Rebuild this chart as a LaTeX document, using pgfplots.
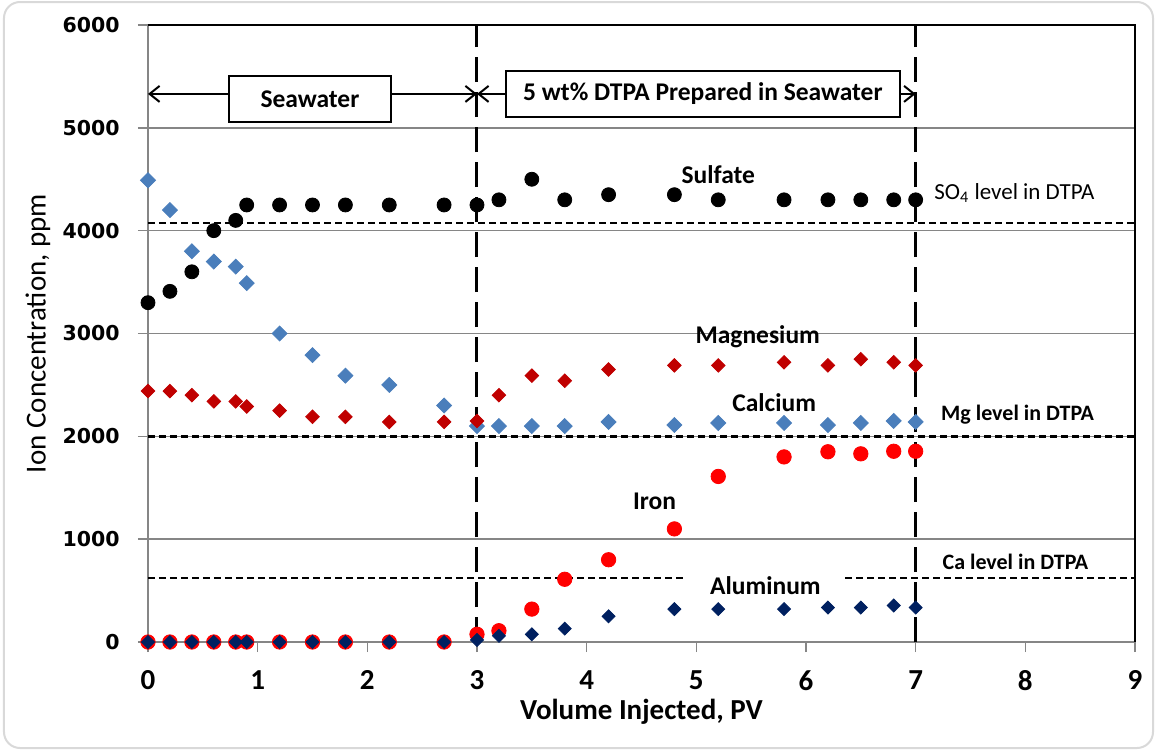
\documentclass[border=0pt]{standalone}
\usepackage{fontspec}
\setmainfont{Carlito}
\newfontfamily\dejavu{DejaVu Sans}
\usepackage{pgfplots}
\pgfplotsset{compat=1.18}
\usetikzlibrary{arrows.meta}
\definecolor{caBlue}{RGB}{74,126,187}
\definecolor{mgRed}{RGB}{192,0,0}
\definecolor{feRed}{RGB}{255,0,0}
\definecolor{alNavy}{RGB}{0,32,96}
\definecolor{gridGray}{RGB}{134,134,134}
\definecolor{frameGray}{RGB}{217,217,217}
\newcommand{\lblfont}{\fontsize{12.75pt}{15pt}\selectfont\bfseries}
\begin{document}
\begin{tikzpicture}
\useasboundingbox (-74pt,-55pt) rectangle (504.5pt,321pt);
\draw[frameGray, line width=1pt, rounded corners=8pt] (-72pt,-53pt) rectangle (502.5pt,320pt);
\begin{axis}[
  scale only axis, width=493.5pt, height=308.5pt,
  at={(0pt,0pt)}, anchor=south west,
  xmin=0, xmax=9, ymin=0, ymax=6000,
  xtick={0,1,2,3,4,5,6,7,8,9}, xticklabels={0,1,2,3,4,5,6,7,8,9},
  ytick={0,1000,2000,3000,4000,5000,6000},
  yticklabels={0,1000,2000,3000,4000,5000,6000},
  tick pos=left, tick align=outside, major tick length=5pt,
  every tick/.style={gridGray, line width=0.75pt},
  axis line style={gridGray, line width=0.75pt},
  ymajorgrids, major grid style={gridGray, line width=0.75pt},
  xticklabel style={font=\fontsize{14.5pt}{17pt}\selectfont\bfseries, inner sep=0pt, anchor=north, yshift=-9pt},
  yticklabel style={font=\dejavu\fontsize{10.25pt}{12pt}\selectfont\bfseries, inner sep=0pt, anchor=east, xshift=-9pt},
  xlabel={Volume Injected, PV}, ylabel={Ion Concentration, ppm},
  xlabel style={font=\fontsize{14.5pt}{17pt}\selectfont\bfseries, at={(axis description cs:0.5,-0.1135)}, anchor=center},
  ylabel style={font=\fontsize{14.5pt}{17pt}\selectfont, at={(axis description cs:-0.1115,0.5)}, anchor=center},
  clip=false,
]
% Calcium
\addplot[only marks, mark=square*, mark size=2.65pt, mark options={rotate=45, fill=caBlue, draw=caBlue}] coordinates {
(0,4490)(0.2,4200)(0.4,3800)(0.6,3700)(0.8,3650)(0.9,3490)(1.2,3000)(1.5,2790)(1.8,2590)(2.2,2500)(2.7,2300)(3.0,2100)(3.2,2100)(3.5,2100)(3.8,2100)(4.2,2140)(4.8,2110)(5.2,2130)(5.8,2130)(6.2,2110)(6.5,2130)(6.8,2150)(7.0,2140)};
% Magnesium
\addplot[only marks, mark=square*, mark size=2.4pt, mark options={rotate=45, fill=mgRed, draw=mgRed}] coordinates {
(0,2440)(0.2,2440)(0.4,2400)(0.6,2340)(0.8,2340)(0.9,2290)(1.2,2250)(1.5,2190)(1.8,2190)(2.2,2140)(2.7,2140)(3.0,2150)(3.2,2400)(3.5,2590)(3.8,2540)(4.2,2650)(4.8,2690)(5.2,2690)(5.8,2720)(6.2,2690)(6.5,2750)(6.8,2720)(7.0,2690)};
% Iron
\addplot[only marks, mark=*, mark size=3.6pt, mark options={fill=feRed, draw=feRed}] coordinates {
(0,0)(0.2,0)(0.4,0)(0.6,0)(0.8,0)(0.9,0)(1.2,0)(1.5,0)(1.8,0)(2.2,0)(2.7,0)(3.0,75)(3.2,110)(3.5,320)(3.8,610)(4.2,800)(4.8,1100)(5.2,1610)(5.8,1800)(6.2,1850)(6.5,1830)(6.8,1855)(7.0,1855)};
% Aluminum
\addplot[only marks, mark=square*, mark size=2.3pt, mark options={rotate=45, fill=alNavy, draw=alNavy}] coordinates {
(0,0)(0.2,0)(0.4,0)(0.6,0)(0.8,0)(0.9,0)(1.2,0)(1.5,0)(1.8,0)(2.2,0)(2.7,0)(3.0,20)(3.2,60)(3.5,75)(3.8,130)(4.2,250)(4.8,320)(5.2,320)(5.8,320)(6.2,335)(6.5,335)(6.8,355)(7.0,335)};
% Sulfate
\addplot[only marks, mark=*, mark size=3.5pt, mark options={fill=black, draw=black}] coordinates {
(0,3300)(0.2,3410)(0.4,3600)(0.6,4000)(0.8,4100)(0.9,4250)(1.2,4250)(1.5,4250)(1.8,4250)(2.2,4250)(2.7,4250)(3.0,4250)(3.2,4300)(3.5,4500)(3.8,4300)(4.2,4350)(4.8,4350)(5.2,4300)(5.8,4300)(6.2,4300)(6.5,4300)(6.8,4300)(7.0,4300)};
% reference levels
\addplot[black, line width=1.2pt, dash pattern=on 3.5pt off 2pt] coordinates {(0,4075)(9,4075)};
\addplot[black, line width=1.2pt, dash pattern=on 3.5pt off 2pt] coordinates {(0,2000)(9,2000)};
\addplot[black, line width=1.2pt, dash pattern=on 3.5pt off 2pt] coordinates {(0,620)(4.9,620)};
\addplot[black, line width=1.2pt, dash pattern=on 3.5pt off 2pt] coordinates {(6.36,620)(9,620)};
% separators
\addplot[black, line width=1.5pt, dash pattern=on 12.5pt off 5pt] coordinates {(3,0)(3,6000)};
\addplot[black, line width=1.5pt, dash pattern=on 12.5pt off 5pt] coordinates {(7,0)(7,6000)};
% top and right border
\draw[black, line width=1pt] (rel axis cs:0,1) -- (rel axis cs:1,1) -- (rel axis cs:1,0);
% arrows
\draw[line width=1pt, {Straight Barb[length=5pt,width=8pt]}-{Straight Barb[length=5pt,width=8pt]}] (axis cs:0,5330) -- (axis cs:3,5330);
\draw[line width=1pt, {Straight Barb[length=5pt,width=8pt]}-{Straight Barb[length=5pt,width=8pt]}] (axis cs:3,5330) -- (axis cs:7,5330);
\node[draw=black, fill=white, line width=0.75pt, minimum width=81pt, minimum height=23pt, inner sep=0pt, font=\lblfont] at (axis cs:1.477,5282) {Seawater};
\node[draw=black, fill=white, line width=0.75pt, minimum width=197pt, minimum height=23pt, inner sep=0pt, font=\lblfont] at (axis cs:5.06,5331) {5 wt\% DTPA Prepared in Seawater};
% labels
\node[font=\lblfont] at (axis cs:5.2,4540) {Sulfate};
\node[font=\fontsize{11.5pt}{14pt}\selectfont] at (axis cs:7.90,4368) {SO\textsubscript{4} level in DTPA};
\node[font=\lblfont] at (axis cs:5.56,2970) {Magnesium};
\node[font=\lblfont] at (axis cs:5.71,2330) {Calcium};
\node[font=\fontsize{11pt}{13pt}\selectfont\bfseries] at (axis cs:7.93,2210) {Mg level in DTPA};
\node[font=\lblfont] at (axis cs:4.62,1370) {Iron};
\node[font=\lblfont] at (axis cs:5.63,545) {Aluminum};
\node[font=\fontsize{11pt}{13pt}\selectfont\bfseries] at (axis cs:7.91,780) {Ca level in DTPA};
\end{axis}
\end{tikzpicture}
\end{document}
